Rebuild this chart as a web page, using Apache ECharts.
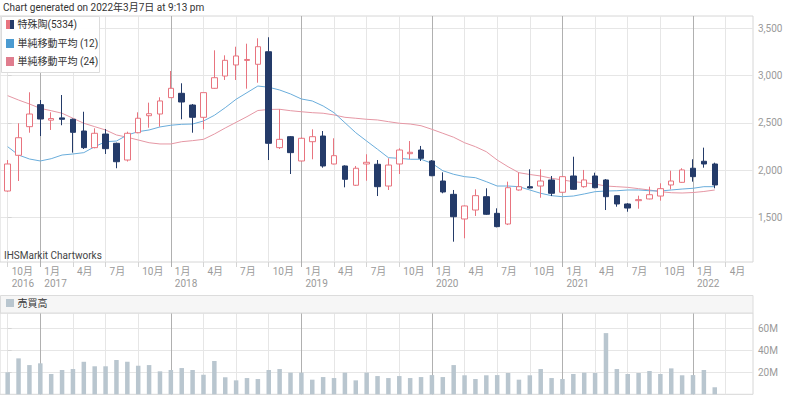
<!DOCTYPE html>
<html><head><meta charset="utf-8">
<script src="https://cdn.jsdelivr.net/npm/echarts@6/dist/echarts.min.js"></script>
<style>html,body{margin:0;padding:0;background:#fff}#c{width:800px;height:396px}</style>
</head><body><div id="c"></div>
<script>
// Monthly periods (Oct 2016 - Mar 2022)
const periods = ['2016-10','2016-11','2016-12',
 '2017-01','2017-02','2017-03','2017-04','2017-05','2017-06','2017-07','2017-08','2017-09','2017-10','2017-11','2017-12',
 '2018-01','2018-02','2018-03','2018-04','2018-05','2018-06','2018-07','2018-08','2018-09','2018-10','2018-11','2018-12',
 '2019-01','2019-02','2019-03','2019-04','2019-05','2019-06','2019-07','2019-08','2019-09','2019-10','2019-11','2019-12',
 '2020-01','2020-02','2020-03','2020-04','2020-05','2020-06','2020-07','2020-08','2020-09','2020-10','2020-11','2020-12',
 '2021-01','2021-02','2021-03','2021-04','2021-05','2021-06','2021-07','2021-08','2021-09','2021-10','2021-11','2021-12',
 '2022-01','2022-02','2022-03'];
// [open, close, low, high]
const ohlc = [
 [1778,2064,1770,2106],[2156,2342,1884,2495],[2459,2593,2395,2823],
 [2692,2540,2360,2741],[2528,2545,2424,2611],[2552,2537,2474,2794],[2537,2399,2184,2545],[2413,2237,2223,2617],[2237,2389,2230,2442],
 [2381,2226,2170,2434],[2283,2088,2019,2290],[2106,2389,2090,2406],[2395,2548,2389,2611],[2575,2596,2448,2713],[2593,2731,2459,2770],
 [2766,2865,2766,3048],[2812,2720,2537,2918],[2688,2558,2395,2699],[2558,2819,2431,2819],[2865,2977,2860,3267],[2995,3161,2953,3214],
 [3112,3207,2953,3305],[3160,3170,2861,3337],[3119,3305,2924,3394],[3252,2283,2106,3405],[2237,2325,2223,2643],[2353,2184,1958,2360],
 [2096,2336,2090,2347],[2300,2353,2114,2431],[2360,2043,2025,2413],[2064,2152,2060,2336],[2043,1902,1817,2050],[1839,2019,1832,2043],
 [2064,2082,1887,2167],[2061,1824,1725,2106],[1831,2053,1789,2124],[2064,2212,1958,2230],[2173,2188,2117,2307],[2212,2124,2096,2255],
 [2096,1940,1935,2106],[1884,1768,1754,1976],[1743,1506,1242,1789],[1482,1620,1278,1625],[1577,1729,1514,1796],[1718,1532,1525,1807],
 [1542,1401,1394,1595],[1429,1813,1418,1877],[1789,1824,1782,1972],[1824,1810,1805,2008],[1831,1884,1707,2008],[1895,1754,1725,1937],
 [1765,1930,1758,1935],[1937,1796,1790,2141],[1824,1895,1813,2001],[1937,1813,1807,1972],[1895,1718,1577,1905],[1729,1641,1612,1736],
 [1641,1598,1559,1650],[1676,1687,1591,1729],[1694,1739,1690,1824],[1725,1803,1676,1860],[1842,1884,1796,1993],[1870,2001,1865,2019],
 [2019,1930,1877,2114],[2093,2064,2025,2237],[2064,1842,1807,2078]
];
const ma12 = [2247,2159,2117,2096,2120,2159,2170,2184,2247,2300,2307,2371,2406,2424,2456,2474,2484,2487,2519,2579,2660,2749,2819,2889,
 2876,2847,2805,2752,2731,2678,2607,2501,2395,2307,2220,2131,2124,2114,2114,2071,1993,1955,1930,1919,1877,1831,1831,1824,
 1789,1754,1729,1718,1725,1747,1771,1778,1781,1789,1789,1781,1778,1789,1799,1807,1824,1824];
const ma24 = [2787,2741,2699,2653,2628,2601,2548,2495,2459,2424,2371,2347,2318,2289,2276,2276,2300,2311,2325,2381,2445,2505,2565,2630,
 2641,2643,2628,2617,2607,2601,2583,2558,2548,2537,2530,2512,2495,2487,2469,2431,2389,2347,2289,2247,2194,2106,2035,1972,
 1953,1937,1913,1895,1877,1866,1852,1831,1824,1817,1803,1789,1771,1760,1757,1762,1773,1789];
const volume = [20.0,32.7,26.6,28.2,18.5,22.1,23.0,29.6,25.5,25.5,31.2,29.6,26.0,26.6,20.9,22.1,23.9,22.1,17.8,30.3,15.5,12.7,14.8,13.9,
 22.1,23.0,19.7,19.7,13.3,15.7,14.8,19.7,12.7,19.7,16.6,14.8,16.6,14.8,15.7,17.5,15.7,26.6,17.3,13.9,17.3,17.5,19.4,13.3,
 17.3,23.0,14.8,13.9,18.5,19.7,19.4,55.7,23.0,18.5,19.4,21.2,18.5,23.6,17.3,17.5,22.1,6.4].map(v => v * 1e6);
// Axis ticks (month offsets from Oct 2016) and labels
const xTickPos = [0,3,6,9,12,15,18,21,24,27,30,33,36,39,42,45,48,51,54,57,60,63,66];
const xTickLabels = ['10月\n2016','1月\n2017','4月','7月','10月','1月\n2018','4月','7月','10月','1月\n2019','4月','7月','10月',
 '1月\n2020','4月','7月','10月','1月\n2021','4月','7月','10月','1月\n2022','4月'];
const priceTicks = [1500,2000,2500,3000,3500];
const volTicks = [20e6,40e6,60e6];
const volTickLabels = ['20M','40M','60M'];

const FONT = "Roboto, 'Noto Sans CJK JP', sans-serif";
const xMin = -0.705, xMax = 68.516;
const yearPos = xTickPos.filter((p, i) => xTickLabels[i].startsWith('1月'));
const quarterPos = xTickPos.filter((p, i) => !xTickLabels[i].startsWith('1月'));
const LIGHT = '#e6e6e6', DARK = '#b0b0b0', LABEL = '#9a9a9a';
const UP = '#e8747f', DOWN = '#243b69';

function xAxes(grid, withLabels) {
  return [
    {type:'value', gridIndex:grid, min:xMin, max:xMax, position:'bottom',
     axisLine:{show:false},
     axisTick:{show:withLabels, length:5, customValues:quarterPos, lineStyle:{color:'#d4d4d4'}},
     axisLabel:{show:withLabels, customValues:xTickPos, formatter:v => xTickLabels[xTickPos.indexOf(Math.round(v))],
       align:'left', padding:[0,0,0,4], margin:3, lineHeight:12, fontSize:10, color:LABEL, fontFamily:FONT},
     splitLine:{show:true, lineStyle:{color:LIGHT, width:1}}},
    {type:'value', gridIndex:grid, min:xMin, max:xMax, position:'bottom',
     axisLine:{show:false},
     axisTick:{show:withLabels, length:5, customValues:yearPos, lineStyle:{color:DARK}},
     axisLabel:{show:false},
     splitLine:{show:true, lineStyle:{color:DARK, width:1}}}
  ];
}

const chart = echarts.init(document.getElementById('c'), null, {renderer:'svg'});
const option = {
  animation:false,
  textStyle:{fontFamily:FONT},
  grid:[
    {left:0, right:47, top:16, height:246, show:true, borderColor:'#d6d6d6', borderWidth:1},
    {left:0, right:47, top:313, height:81.3, show:true, borderColor:'#d6d6d6', borderWidth:1}
  ],
  xAxis: xAxes(0, true).concat(xAxes(1, false)),
  yAxis:[
    {type:'value', gridIndex:0, position:'right', min:1027, max:3630,
     axisLine:{show:false},
     axisTick:{show:true, length:4, customValues:priceTicks, lineStyle:{color:'#d4d4d4'}},
     axisLabel:{customValues:priceTicks, formatter:v => v.toLocaleString('en-US'), margin:5, fontSize:10, color:LABEL, fontFamily:FONT},
     splitLine:{show:true, lineStyle:{color:LIGHT}}},
    {type:'value', gridIndex:1, position:'right', min:0, max:74e6,
     axisLine:{show:false},
     axisTick:{show:true, length:4, customValues:volTicks, lineStyle:{color:'#d4d4d4'}},
     axisLabel:{customValues:volTicks, formatter:v => volTickLabels[volTicks.indexOf(v)], margin:5, fontSize:10, color:LABEL, fontFamily:FONT},
     splitLine:{show:true, lineStyle:{color:LIGHT}}}
  ],
  series:[
    {type:'line', xAxisIndex:0, yAxisIndex:0, data:ma24.map((v,i)=>[i,v]), symbol:'none', lineStyle:{color:'#e597a4', width:1}, z:2},
    {type:'line', xAxisIndex:0, yAxisIndex:0, data:ma12.map((v,i)=>[i,v]), symbol:'none', lineStyle:{color:'#6aaddb', width:1}, z:2},
    {type:'candlestick', xAxisIndex:0, yAxisIndex:0, z:3,
     data:ohlc.map((d,i)=>[i,d[0],d[1],d[2],d[3]]), encode:{x:0, y:[1,2,3,4]},
     barWidth:6,
     itemStyle:{color:'#ffffff', color0:DOWN, borderColor:UP, borderColor0:DOWN, borderWidth:1}},
    {type:'bar', xAxisIndex:2, yAxisIndex:1, data:volume.map((v,i)=>[i,v]), barWidth:4.5,
     itemStyle:{color:'#b9c6cf'}}
  ],
  graphic:[
    {type:'text', x:3, y:7, style:{text:'Chart generated on 2022年3月7日 at 9:13 pm', fontSize:10, fontFamily:FONT, fill:'#333', verticalAlign:'middle'}},
    {type:'rect', z:100, shape:{x:1.5, y:16.5, width:98, height:56}, style:{fill:'rgba(255,255,255,0.95)', stroke:'#dcdcdc', lineWidth:1}},
    {type:'rect', z:101, shape:{x:6, y:20, width:4, height:9}, style:{fill:UP}},
    {type:'rect', z:101, shape:{x:10, y:20, width:4, height:9}, style:{fill:DOWN}},
    {type:'text', z:101, x:17.5, y:24.5, style:{text:'特殊陶(5334)', fontSize:10, fontFamily:FONT, fill:'#333', verticalAlign:'middle'}},
    {type:'rect', z:101, shape:{x:6, y:39, width:8, height:9}, style:{fill:'#4b9bd1'}},
    {type:'text', z:101, x:17.5, y:43.5, style:{text:'単純移動平均 (12)', fontSize:10, fontFamily:FONT, fill:'#333', verticalAlign:'middle'}},
    {type:'rect', z:101, shape:{x:6, y:57, width:8, height:9}, style:{fill:'#e07d8e'}},
    {type:'text', z:101, x:17.5, y:61.5, style:{text:'単純移動平均 (24)', fontSize:10, fontFamily:FONT, fill:'#333', verticalAlign:'middle'}},
    {type:'text', z:101, x:4, y:255, style:{text:'IHSMarkit Chartworks', fontSize:10, fontFamily:FONT, fill:'#444', verticalAlign:'middle'}},
    {type:'rect', z:100, shape:{x:0.5, y:295.5, width:752.5, height:17.5}, style:{fill:'#f6f6f6', stroke:'#dcdcdc', lineWidth:1}},
    {type:'rect', z:101, shape:{x:6, y:299, width:8, height:8}, style:{fill:'#b9c6cf'}},
    {type:'text', z:101, x:17.5, y:303, style:{text:'売買高', fontSize:10, fontFamily:FONT, fill:'#333', verticalAlign:'middle'}}
  ]
};
chart.setOption(option);
</script></body></html>
